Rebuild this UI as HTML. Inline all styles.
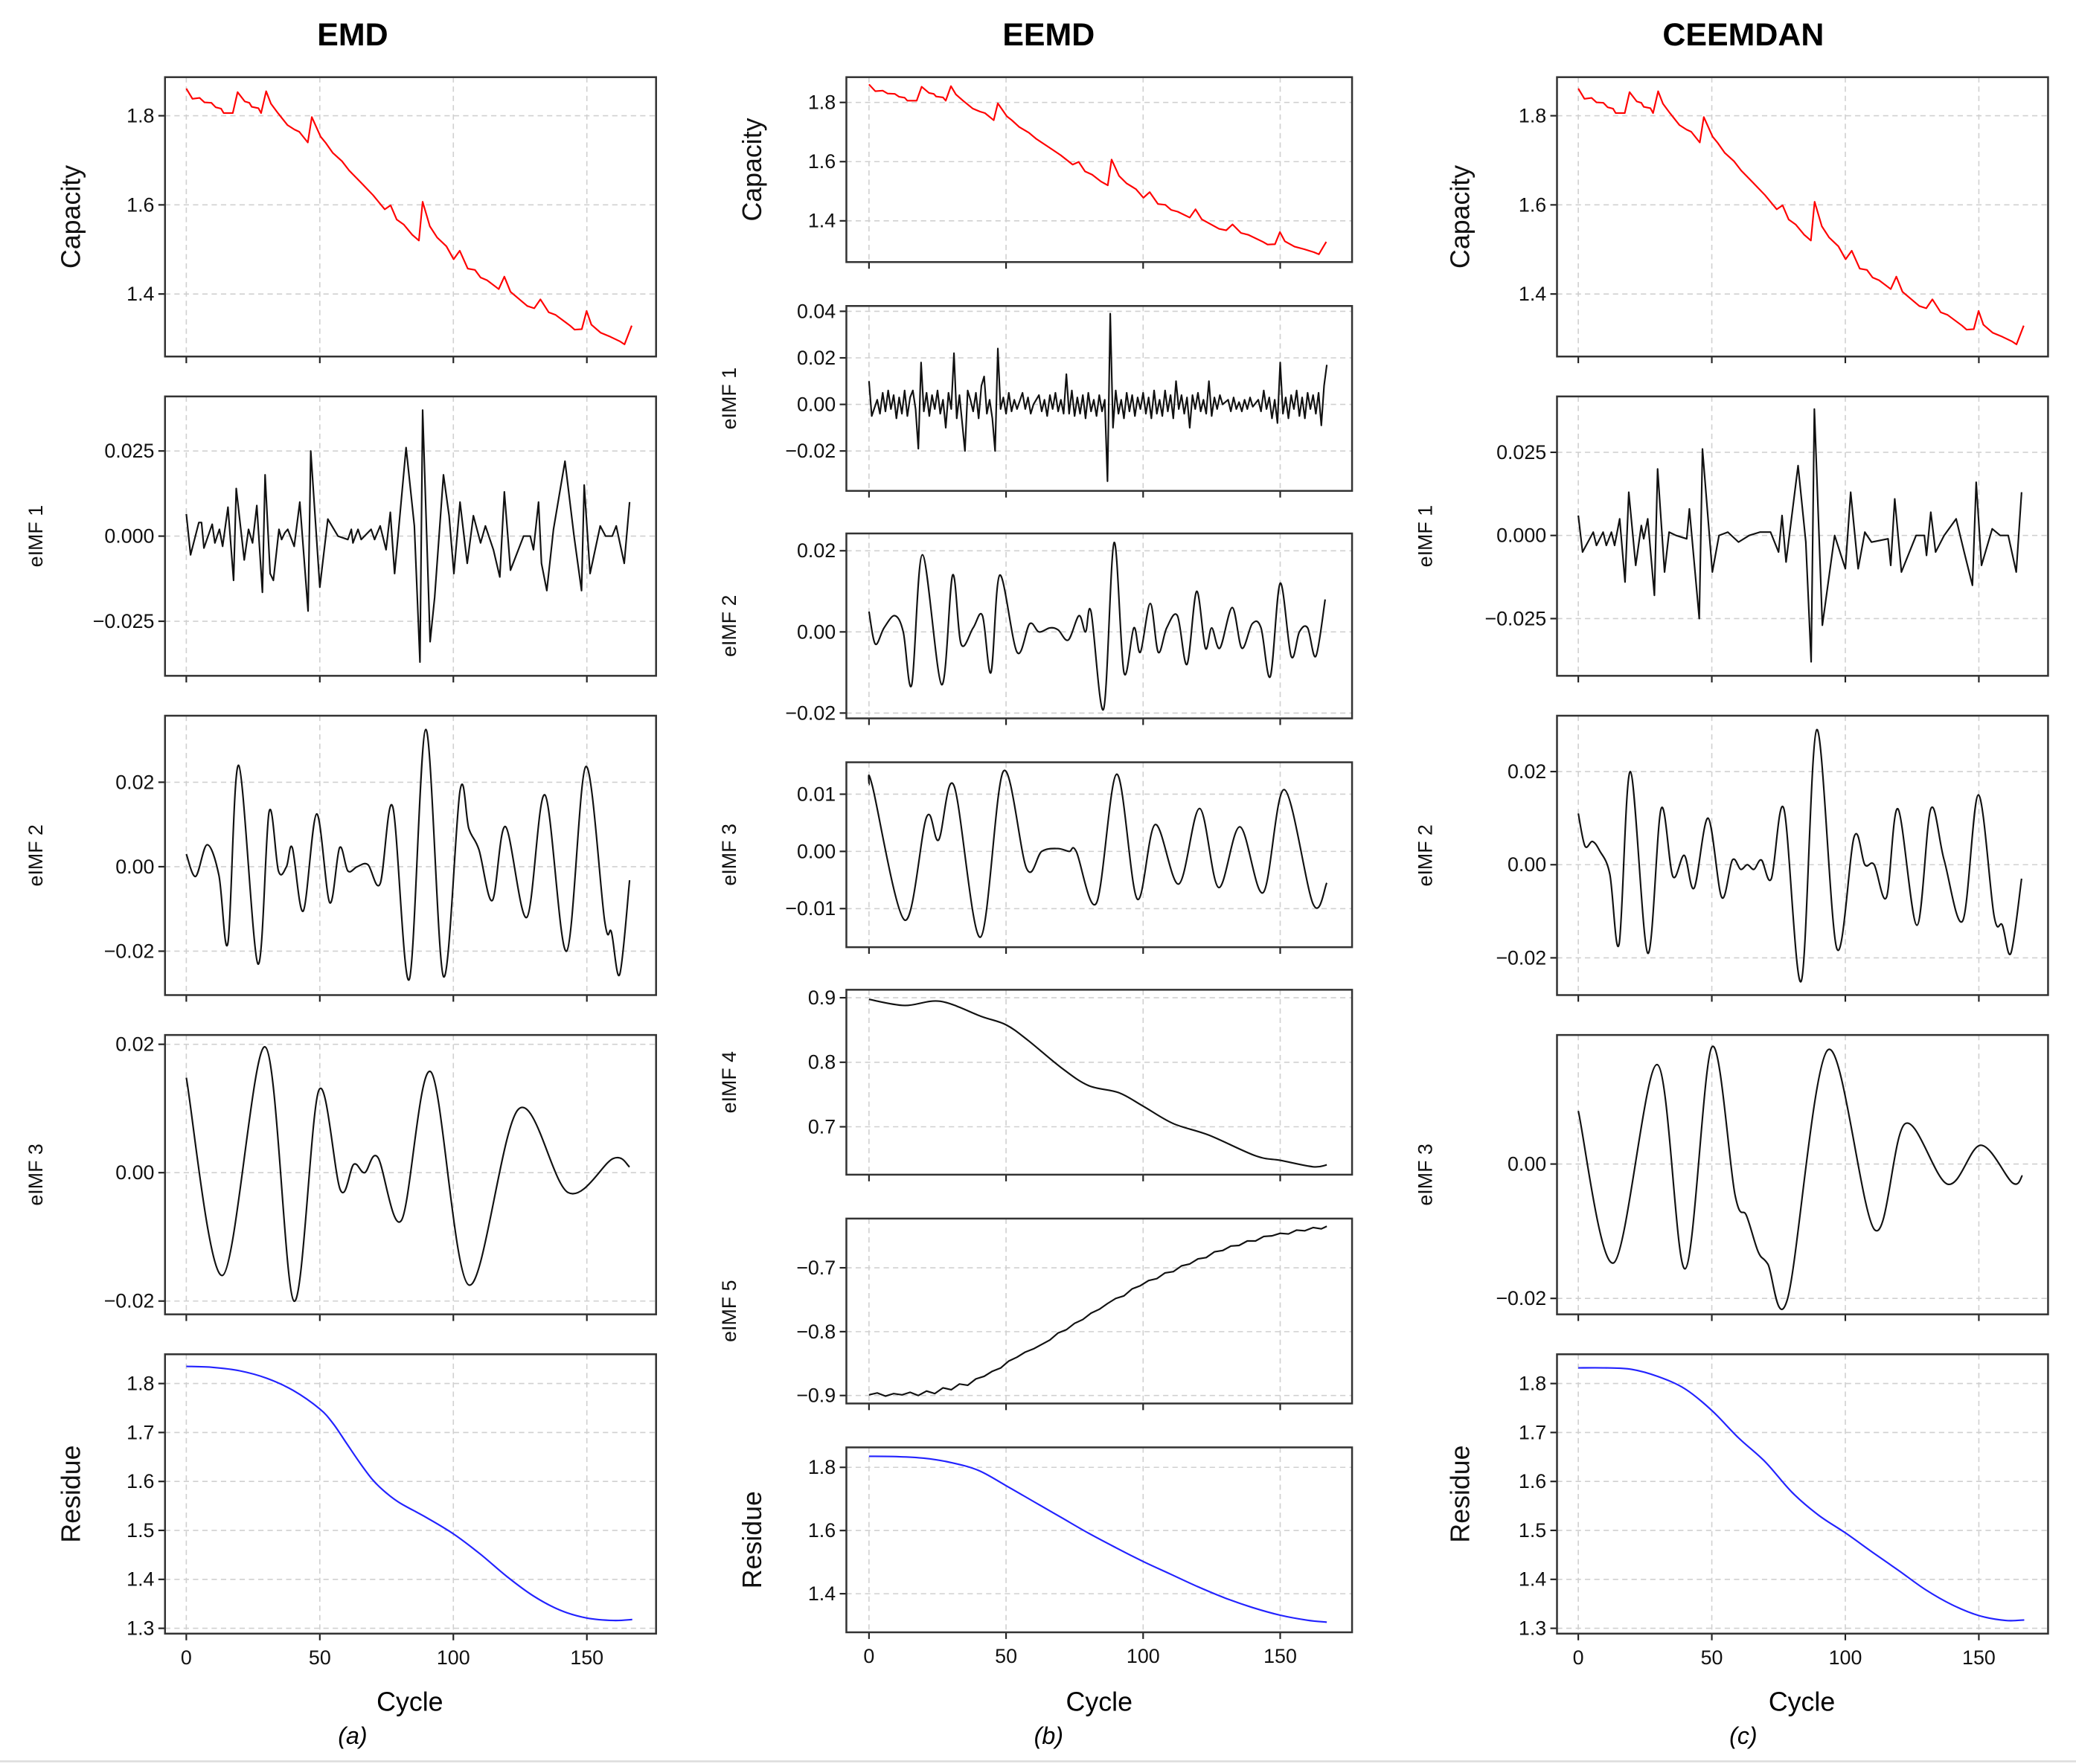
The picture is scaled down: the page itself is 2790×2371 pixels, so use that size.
<!DOCTYPE html>
<html><head><meta charset="utf-8"><style>
html,body{margin:0;padding:0;background:#fff;}
svg{display:block;font-family:"Liberation Sans","DejaVu Sans",sans-serif;}
</style></head><body>
<svg id="fig" width="2790" height="2371" viewBox="0 0 1560 1326" preserveAspectRatio="none" xmlns="http://www.w3.org/2000/svg">
<text x="265" y="34" text-anchor="middle" font-size="24" font-weight="bold">EMD</text>
<text x="788" y="34" text-anchor="middle" font-size="24" font-weight="bold">EEMD</text>
<text x="1310" y="34" text-anchor="middle" font-size="24" font-weight="bold">CEEMDAN</text>
<text x="308" y="1286" text-anchor="middle" font-size="20">Cycle</text>
<text x="826" y="1286" text-anchor="middle" font-size="20">Cycle</text>
<text x="1354" y="1286" text-anchor="middle" font-size="20">Cycle</text>
<text x="265" y="1311" text-anchor="middle" font-size="18" font-style="italic">(a)</text>
<text x="788" y="1311" text-anchor="middle" font-size="18" font-style="italic">(b)</text>
<text x="1310" y="1311" text-anchor="middle" font-size="18" font-style="italic">(c)</text>
<line x1="0" y1="1324" x2="1560" y2="1324" stroke="#ddd" stroke-width="1.5"/>
</svg>
<script>
// ---- data (cycle, value) ----
const capacity = [[0,1.861],[2.3,1.838],[5,1.84],[6.8,1.83],[9.4,1.829],[11,1.819],[13,1.816],[14,1.806],[17.4,1.806],[19.2,1.853],[21.9,1.832],[23.6,1.829],[24.5,1.82],[27,1.817],[28,1.806],[29.9,1.855],[31.7,1.827],[34.3,1.806],[37.9,1.779],[40.5,1.769],[42.3,1.764],[45.5,1.74],[47,1.797],[50.3,1.753],[52.1,1.74],[54.8,1.717],[58.3,1.698],[61,1.677],[65.4,1.65],[69.9,1.622],[74.3,1.59],[76.5,1.599],[78.8,1.567],[81.4,1.556],[84.6,1.533],[87.1,1.52],[88.5,1.607],[91.2,1.552],[93.9,1.527],[97.4,1.507],[100.1,1.478],[102.4,1.497],[105.4,1.457],[108.1,1.454],[110.2,1.437],[112.6,1.431],[117,1.411],[119.1,1.439],[121.4,1.405],[127.7,1.373],[130.3,1.368],[132.6,1.388],[135.7,1.359],[138.3,1.353],[143.7,1.329],[145.4,1.32],[148.1,1.321],[149.9,1.362],[151.7,1.331],[155.2,1.313],[158.8,1.304],[162.3,1.294],[164.1,1.287],[166.8,1.329]];
const emdImf1 = [[0,.0065],[1.6,-.0055],[4.7,.004],[5.7,.004],[6.6,-.0035],[9.7,.0035],[10.7,-.002],[12.4,.002],[13.6,-.003],[15.6,.0085],[17.7,-.013],[18.7,.014],[21.7,-.007],[23.3,.002],[24.8,-.002],[26.4,.009],[28.5,-.0165],[29.5,.018],[31.4,-.011],[32.6,-.013],[34.7,.002],[35.7,-.001],[36.9,.001],[38,.002],[40.4,-.003],[42.5,.01],[45.6,-.022],[46.6,.025],[50,-.015],[53,.005],[56.8,0],[60.5,-.001],[61.8,.002],[62.4,-.002],[64.3,.002],[65.5,-.001],[69.2,.002],[70.5,-.001],[72.6,.003],[74.8,-.004],[76.4,.007],[78,-.011],[82.3,.026],[85.4,.003],[87.5,-.037],[88.5,.037],[91.3,-.031],[93,-.018],[96.3,.018],[98.4,.006],[100.2,-.011],[102.5,.01],[105.2,-.008],[107.5,.006],[110.2,-.002],[112,.003],[115,-.004],[117.4,-.012],[119.1,.013],[121.4,-.01],[126.3,0],[128.8,0],[130,-.004],[131.9,.01],[133,-.008],[135,-.016],[137.5,.002],[141.8,.022],[145.2,0],[148,-.016],[149,.015],[151.2,-.011],[155,.003],[157,0],[159.5,0],[161,.003],[164,-.008],[166,.010]];
const emdImf2 = [[0,.003],[3.5,-.0023],[7.8,.0052],[12.2,-.002],[15.6,-.018],[19.6,.024],[26.8,-.023],[31,.013],[34.5,-.001],[37.5,0],[39.7,.0045],[43.8,-.0105],[48.8,.0125],[53.7,-.0085],[57.4,.0045],[60.5,-.001],[64,0],[68,.0005],[72.6,-.004],[77.3,.0142],[83.5,-.0267],[89.7,.0325],[96.3,-.026],[102.5,.018],[105.8,.009],[109.6,.004],[114.6,-.008],[119.5,.0095],[127.5,-.012],[134.3,.017],[142.4,-.02],[149.6,.0237],[156.7,-.013],[159.2,-.0155],[162.3,-.0255],[166,-.0032]];
const emdImf3 = [[0,.0148],[13.6,-.016],[29.5,.0196],[40.3,-.02],[49.6,.0128],[57.7,-.0027],[62.7,.0013],[66.8,0],[71.7,.0024],[80.6,-.0074],[91.6,.0157],[105.8,-.0175],[124.4,.0099],[143,-.0031],[159.8,.0022],[166,.0009]];
const emdResidue = [[0,1.835],[10,1.833],[20,1.826],[30,1.811],[40,1.786],[50,1.748],[55,1.718],[60,1.678],[65,1.638],[70,1.602],[75,1.576],[80,1.556],[90,1.526],[100,1.493],[110,1.452],[120,1.406],[130,1.366],[140,1.337],[150,1.321],[160,1.316],[167,1.318]];
const eemdImf1 = [[0,.010],[1,-.005],[3,.002],[4,-.004],[5,.005],[6,-.003],[7,.006],[8,-.002],[9,.004],[10,-.006],[11,.003],[12,-.004],[13,.006],[14,-.005],[15,.003],[16,.006],[17,-.002],[18,-.019],[19,.018],[20,-.003],[21,.005],[22,-.005],[23,.004],[24,-.002],[25,.006],[26,-.004],[27,.002],[28,-.01],[29,.005],[30,-.002],[31,.022],[32,-.006],[33,.004],[34,-.008],[35,-.02],[36,.006],[37,.002],[38,-.003],[39,.005],[40,-.006],[41,.008],[42,.012],[43,-.004],[44,.002],[45,-.006],[46,-.02],[47,.024],[48,-.002],[49,.003],[50,-.004],[51,.005],[52,-.003],[53,.002],[54,-.002],[56,.005],[57,-.002],[58,.003],[59,-.004],[60,0],[62,.004],[63,-.003],[64,.002],[65,-.005],[66,.004],[67,-.002],[68,.005],[69,-.003],[70,.002],[71,-.004],[72,.013],[73,-.004],[74,.006],[75,-.005],[76,.003],[77,-.004],[78,.004],[79,-.006],[80,.005],[81,-.003],[82,.002],[83,-.005],[84,.004],[85,-.003],[86,.002],[87,-.033],[88,.039],[89,-.01],[90,.006],[91,-.004],[92,.002],[93,-.006],[94,.005],[95,-.003],[96,.004],[97,-.005],[98,.003],[99,-.002],[100,.005],[101,-.004],[102,.003],[103,-.006],[104,.006],[105,-.004],[106,.002],[107,-.005],[108,.006],[109,-.003],[110,.004],[111,-.006],[112,.01],[113,-.002],[114,.004],[115,-.004],[116,.003],[117,-.010],[118,.004],[119,-.002],[120,.005],[121,-.003],[122,.002],[123,-.004],[124,.010],[125,-.005],[126,.003],[127,-.002],[128,.004],[129,0],[131,.002],[132,-.003],[133,.003],[134,-.002],[135,.001],[136,-.003],[137,.002],[138,-.002],[139,.003],[140,-.001],[142,.002],[143,-.003],[144,.006],[145,-.002],[146,.003],[147,-.006],[148,.002],[149,-.008],[150,.018],[151,-.004],[152,.003],[153,-.006],[154,.004],[155,-.002],[156,.006],[157,-.005],[158,.003],[159,-.006],[160,.005],[161,-.002],[162,.004],[163,-.004],[164,.005],[165,-.009],[166,.008],[167,.017]];
const eemdImf2 = [[0,.005],[2.3,-.003],[5.5,.001],[9.4,.004],[12.5,0],[15.6,-.013],[19.5,.019],[26.5,-.013],[30.5,.014],[33.6,-.003],[38,.001],[41.4,.004],[44.5,-.01],[47.7,.014],[54,-.005],[58.6,.002],[62,0],[66,.001],[69,.0005],[72.7,-.002],[76.6,.004],[79,0],[81,.005],[85.6,-.019],[89.4,.022],[93,-.01],[96.6,.001],[99,-.005],[102.6,.007],[105.5,-.005],[108.6,.001],[112.5,.004],[116,-.008],[119.5,.01],[122.7,-.004],[125,.001],[128,-.004],[132.5,.006],[136,-.004],[139.8,.002],[143,.001],[146.4,-.011],[150,.012],[154,-.006],[157,0],[160,.001],[163,-.006],[166.4,.008]];
const eemdImf3 = [[0,.0117],[1.2,.0115],[13,-.012],[21,.006],[25.4,.002],[31,.0115],[40.6,-.015],[49,.014],[57.5,-.003],[63,0],[68.8,.0005],[73,0],[75.6,0],[83,-.009],[90.4,.0135],[97.8,-.0083],[104.4,.0047],[113,-.0057],[120.6,.0075],[127.5,-.0063],[135.3,.0043],[143.8,-.0072],[151.5,.0108],[162,-.0092],[167,-.0055]];
const eemdImf4 = [[0,.8975],[13,.888],[26,.8945],[41,.871],[50,.858],[58,.834],[70,.792],[80,.764],[91,.753],[100,.732],[111,.705],[124,.687],[141,.655],[150,.648],[162,.638],[167,.641]];
const eemdImf5 = [[0,-.899],[3,-.896],[6,-.901],[9,-.897],[12,-.899],[15,-.895],[18,-.900],[21,-.893],[24,-.897],[27,-.888],[30,-.891],[33,-.882],[36,-.884],[39,-.874],[42,-.870],[45,-.862],[48,-.857],[51,-.846],[54,-.840],[57,-.832],[60,-.827],[63,-.820],[66,-.813],[69,-.802],[72,-.797],[75,-.787],[78,-.781],[81,-.771],[84,-.765],[87,-.756],[90,-.748],[93,-.744],[96,-.733],[99,-.728],[102,-.720],[105,-.717],[108,-.708],[111,-.706],[114,-.697],[117,-.694],[120,-.686],[123,-.684],[126,-.675],[129,-.673],[132,-.666],[135,-.665],[138,-.658],[141,-.658],[144,-.651],[147,-.650],[150,-.646],[153,-.647],[156,-.641],[159,-.642],[162,-.637],[165,-.639],[167,-.635]];
const eemdResidue = [[0,1.835],[10,1.834],[20,1.829],[30,1.815],[40,1.79],[50,1.742],[60,1.692],[70,1.642],[80,1.592],[90,1.546],[100,1.502],[110,1.462],[120,1.422],[130,1.386],[140,1.356],[150,1.332],[160,1.316],[167,1.31]];
const ceemdanImf1 = [[0,.006],[1.6,-.005],[5.6,.001],[6.8,-.003],[9.3,.001],[10.5,-.003],[12.4,.001],[13.6,-.003],[15.5,.005],[17.5,-.014],[18.9,.013],[21.5,-.009],[23.6,.003],[24.5,-.001],[26,.005],[28.5,-.018],[29.7,.02],[32.3,-.011],[34,.001],[36.6,0],[40.6,-.001],[41.6,.008],[45.3,-.025],[46.5,.026],[50.2,-.011],[52.7,0],[56,.001],[60,-.002],[64,0],[68,.001],[72,.001],[75,-.005],[76.3,.006],[77.8,-.008],[82.3,.021],[85.2,-.002],[87.2,-.038],[88.4,.038],[91.4,-.027],[96,0],[100,-.01],[102,.013],[104.8,-.01],[107.3,.001],[109.8,-.002],[116,-.001],[117,-.009],[118.5,.011],[121,-.011],[126.5,0],[129.6,0],[130.4,-.006],[132,.007],[133.8,-.005],[137,0],[141.5,.005],[144.5,-.005],[147.6,-.015],[149,.016],[151,-.009],[155,.002],[158,0],[161,0],[164,-.011],[166,.013]];
const ceemdanImf2 = [[0,.011],[2.5,.004],[5.3,.005],[8,.003],[11.8,-.002],[15.3,-.017],[19.5,.02],[26,-.019],[31,.012],[35.4,-.0025],[39.7,.002],[43.4,-.005],[48.6,.01],[53.7,-.007],[57.7,.001],[60.8,-.001],[63.3,0],[65.8,-.001],[68.6,.001],[72.3,-.003],[77,.012],[83.5,-.025],[89.3,.029],[96.8,-.018],[103.3,.006],[107.3,0],[110.8,0],[115.4,-.007],[119.7,.012],[126.8,-.013],[132,.012],[137,.001],[144,-.012],[149.8,.015],[155.7,-.011],[158.8,-.013],[162,-.019],[166,-.003]];
const ceemdanImf3 = [[0,.0079],[13.3,-.0147],[29.5,.0148],[40,-.0156],[50,.0174],[58.7,-.0046],[63,-.0077],[67.4,-.0131],[71,-.0149],[78.4,-.02],[93.5,.017],[111,-.0098],[122.4,.006],[138.3,-.003],[150.7,.0028],[162.6,-.0028],[166.3,-.0017]];
const ceemdanResidue = [[0,1.832],[10,1.832],[20,1.829],[30,1.814],[40,1.789],[50,1.745],[60,1.689],[70,1.64],[80,1.578],[90,1.531],[100,1.495],[110,1.456],[120,1.418],[130,1.379],[140,1.348],[150,1.326],[160,1.316],[167,1.317]];

// ---- tick values / labels ----
const xTicks = [0,50,100,150];
const xTickLabels = ["0","50","100","150"];
const capTicks = [1.4,1.6,1.8];
const capTicksB = [1.4,1.6,1.8];
const emdImf1Ticks = [-0.025,0,0.025];
const emdImf1Labels = ["\u22120.025","0.000","0.025"];
const emdImf2Ticks = [-0.02,0,0.02];
const emdImf2Labels = ["\u22120.02","0.00","0.02"];
const emdImf3Ticks = [-0.02,0,0.02];
const emdImf3Labels = ["\u22120.02","0.00","0.02"];
const resTicks = [1.3,1.4,1.5,1.6,1.7,1.8];
const eemdImf1Ticks = [-0.02,0,0.02,0.04];
const eemdImf1Labels = ["\u22120.02","0.00","0.02","0.04"];
const eemdImf2Ticks = [-0.02,0,0.02];
const eemdImf2Labels = ["\u22120.02","0.00","0.02"];
const eemdImf3Ticks = [-0.01,0,0.01];
const eemdImf3Labels = ["\u22120.01","0.00","0.01"];
const eemdImf4Ticks = [0.7,0.8,0.9];
const eemdImf5Ticks = [-0.9,-0.8,-0.7];
const eemdImf5Labels = ["\u22120.9","\u22120.8","\u22120.7"];
const eemdResTicks = [1.4,1.6,1.8];
const ceemdanImf1Ticks = [-0.025,0,0.025];
const ceemdanImf1Labels = ["\u22120.025","0.000","0.025"];
const ceemdanImf2Ticks = [-0.02,0,0.02];
const ceemdanImf2Labels = ["\u22120.02","0.00","0.02"];
const ceemdanImf3Ticks = [-0.02,0];
const ceemdanImf3Labels = ["\u22120.02","0.00"];

// ---- layout ----
const cols = {
  a:{x0:124,x1:493,px0:140,px150:441,labX:60,imfX:32},
  b:{x0:636,x1:1016,px0:653,px150:962,labX:572,imfX:553},
  c:{x0:1170,x1:1539,px0:1186,px150:1487,labX:1104,imfX:1076}
};
function fmt1(v){return v.toFixed(1);}
const panels = [
 {col:'a',top:58,bot:268,v0:1.8,p0:87,v1:1.4,p1:221,data:capacity,ticks:capTicks,labels:capTicks.map(fmt1),color:'#ff0000',smooth:false,title:'Capacity',big:true,name:'emd-capacity'},
 {col:'a',top:298,bot:508,v0:0.025,p0:339,v1:-0.025,p1:467,data:emdImf1,ticks:emdImf1Ticks,labels:emdImf1Labels,color:'#111',smooth:false,title:'eIMF 1',name:'emd-imf1'},
 {col:'a',top:538,bot:748,v0:0.02,p0:588,v1:-0.02,p1:715,data:emdImf2,ticks:emdImf2Ticks,labels:emdImf2Labels,color:'#111',smooth:true,title:'eIMF 2',name:'emd-imf2'},
 {col:'a',top:778,bot:988,v0:0.02,p0:785,v1:-0.02,p1:978,data:emdImf3,ticks:emdImf3Ticks,labels:emdImf3Labels,color:'#111',smooth:true,title:'eIMF 3',name:'emd-imf3'},
 {col:'a',top:1018,bot:1228,v0:1.8,p0:1040,v1:1.3,p1:1224,data:emdResidue,ticks:resTicks,labels:resTicks.map(fmt1),color:'#2222ff',smooth:true,title:'Residue',big:true,xlab:true,name:'emd-residue'},
 {col:'b',top:58,bot:197,v0:1.8,p0:77,v1:1.4,p1:166,data:capacity,ticks:capTicksB,labels:capTicksB.map(fmt1),color:'#ff0000',smooth:false,title:'Capacity',big:true,name:'eemd-capacity'},
 {col:'b',top:230,bot:369,v0:0.04,p0:234,v1:-0.02,p1:339,data:eemdImf1,ticks:eemdImf1Ticks,labels:eemdImf1Labels,color:'#111',smooth:false,title:'eIMF 1',name:'eemd-imf1'},
 {col:'b',top:401,bot:540,v0:0.02,p0:414,v1:-0.02,p1:536,data:eemdImf2,ticks:eemdImf2Ticks,labels:eemdImf2Labels,color:'#111',smooth:true,title:'eIMF 2',name:'eemd-imf2'},
 {col:'b',top:573,bot:712,v0:0.01,p0:597,v1:-0.01,p1:683,data:eemdImf3,ticks:eemdImf3Ticks,labels:eemdImf3Labels,color:'#111',smooth:true,title:'eIMF 3',name:'eemd-imf3'},
 {col:'b',top:744,bot:883,v0:0.9,p0:750,v1:0.7,p1:847,data:eemdImf4,ticks:eemdImf4Ticks,labels:eemdImf4Ticks.map(fmt1),color:'#111',smooth:true,title:'eIMF 4',name:'eemd-imf4'},
 {col:'b',top:916,bot:1055,v0:-0.7,p0:953,v1:-0.9,p1:1049,data:eemdImf5,ticks:eemdImf5Ticks,labels:eemdImf5Labels,color:'#111',smooth:false,title:'eIMF 5',name:'eemd-imf5'},
 {col:'b',top:1088,bot:1227,v0:1.8,p0:1103,v1:1.4,p1:1198,data:eemdResidue,ticks:eemdResTicks,labels:eemdResTicks.map(fmt1),color:'#2222ff',smooth:true,title:'Residue',big:true,xlab:true,name:'eemd-residue'},
 {col:'c',top:58,bot:268,v0:1.8,p0:87,v1:1.4,p1:221,data:capacity,ticks:capTicks,labels:capTicks.map(fmt1),color:'#ff0000',smooth:false,title:'Capacity',big:true,name:'ceemdan-capacity'},
 {col:'c',top:298,bot:508,v0:0.025,p0:340,v1:-0.025,p1:465,data:ceemdanImf1,ticks:ceemdanImf1Ticks,labels:ceemdanImf1Labels,color:'#111',smooth:false,title:'eIMF 1',name:'ceemdan-imf1'},
 {col:'c',top:538,bot:748,v0:0.02,p0:580,v1:-0.02,p1:720,data:ceemdanImf2,ticks:ceemdanImf2Ticks,labels:ceemdanImf2Labels,color:'#111',smooth:true,title:'eIMF 2',name:'ceemdan-imf2'},
 {col:'c',top:778,bot:988,v0:0,p0:875,v1:-0.02,p1:976,data:ceemdanImf3,ticks:ceemdanImf3Ticks,labels:ceemdanImf3Labels,color:'#111',smooth:true,title:'eIMF 3',name:'ceemdan-imf3'},
 {col:'c',top:1018,bot:1228,v0:1.8,p0:1040,v1:1.3,p1:1224,data:ceemdanResidue,ticks:resTicks,labels:resTicks.map(fmt1),color:'#2222ff',smooth:true,title:'Residue',big:true,xlab:true,name:'ceemdan-residue'}
];

const NS='http://www.w3.org/2000/svg';
const svg=document.getElementById('fig');
function mk(tag,attrs,parent){const e=document.createElementNS(NS,tag);for(const k in attrs)e.setAttribute(k,attrs[k]);(parent||svg).appendChild(e);return e;}

function linPath(pts){return pts.map((p,i)=>(i?'L':'M')+p[0].toFixed(2)+','+p[1].toFixed(2)).join('');}
function smoothPath(pts){
  let d='M'+pts[0][0].toFixed(2)+','+pts[0][1].toFixed(2);
  for(let i=0;i<pts.length-1;i++){
    const p0=pts[i-1]||pts[i],p1=pts[i],p2=pts[i+1],p3=pts[i+2]||p2;
    const c1x=p1[0]+(p2[0]-p0[0])/6,c1y=p1[1]+(p2[1]-p0[1])/6;
    const c2x=p2[0]-(p3[0]-p1[0])/6,c2y=p2[1]-(p3[1]-p1[1])/6;
    d+='C'+c1x.toFixed(2)+','+c1y.toFixed(2)+' '+c2x.toFixed(2)+','+c2y.toFixed(2)+' '+p2[0].toFixed(2)+','+p2[1].toFixed(2);
  }
  return d;
}

panels.forEach(P=>{
  const C=cols[P.col];
  const xs=c=>C.px0+(C.px150-C.px0)*c/150;
  const ys=v=>P.p0+(P.p1-P.p0)*(v-P.v0)/(P.v1-P.v0);
  const g=mk('g',{});
  
  
  const clipId='clip-'+P.name;
  const cp=mk('clipPath',{id:clipId},g);
  mk('rect',{x:C.x0,y:P.top,width:C.x1-C.x0,height:P.bot-P.top},cp);
  // grid
  xTicks.forEach(t=>{
    const l=mk('line',{x1:xs(t),x2:xs(t),y1:P.top,y2:P.bot,stroke:'#d0d0d0','stroke-width':0.9,'stroke-dasharray':'4 3'},g);
    
    
  });
  P.ticks.forEach((t,i)=>{
    const y=ys(t);
    const l=mk('line',{x1:C.x0,x2:C.x1,y1:y,y2:y,stroke:'#d0d0d0','stroke-width':0.9,'stroke-dasharray':'4 3'},g);
    
    
    const tk=mk('line',{x1:C.x0-5,x2:C.x0,y1:y,y2:y,stroke:'#222','stroke-width':1.2},g);
    
    
    const tx=mk('text',{x:C.x0-8,y:y+5,'text-anchor':'end','font-size':15,fill:'#111'},g);
    
    
    tx.textContent=P.labels[i];
  });
  xTicks.forEach((t,i)=>{
    const tk=mk('line',{x1:xs(t),x2:xs(t),y1:P.bot,y2:P.bot+5,stroke:'#222','stroke-width':1.2},g);
    
    
    if(P.xlab){
      const tx=mk('text',{x:xs(t),y:P.bot+23,'text-anchor':'middle','font-size':15,fill:'#111'},g);
      
      
      tx.textContent=xTickLabels[i];
    }
  });
  // series
  const pts=P.data.map(d=>[xs(d[0]),ys(d[1])]);
  const path=mk('path',{d:P.smooth?smoothPath(pts):linPath(pts),fill:'none',stroke:P.color,'stroke-width':1.2,'stroke-linejoin':'round','clip-path':'url(#'+clipId+')'},g);
  
  
  // frame
  const fr=mk('rect',{x:C.x0,y:P.top,width:C.x1-C.x0,height:P.bot-P.top,fill:'none',stroke:'#333','stroke-width':1.4},g);
  
  
  // y title
  const lx=P.big?C.labX:C.imfX;
  const cy=(P.top+P.bot)/2;
  const yt=mk('text',{x:lx,y:cy,'text-anchor':'middle','font-size':P.big?20:15,fill:'#111',transform:'rotate(-90 '+lx+' '+cy+')'},g);
  
  
  yt.textContent=P.title;
});
</script>
</body></html>
